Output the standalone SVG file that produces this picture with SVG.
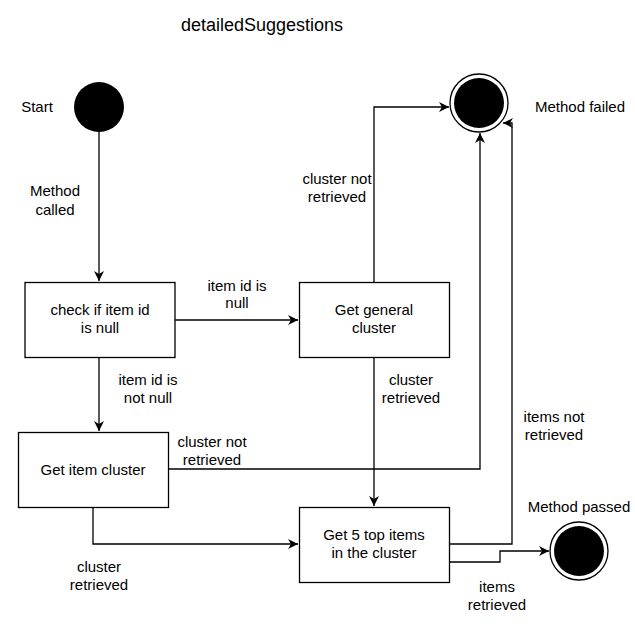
<svg xmlns="http://www.w3.org/2000/svg" width="635" height="632" viewBox="0 0 635 632">
<defs>
<marker id="arr" viewBox="0 0 10 10" refX="10" refY="5" markerWidth="10" markerHeight="10" markerUnits="userSpaceOnUse" orient="auto">
<path d="M0,0 L10,5 L0,10 L3,5 Z" fill="#000"/>
</marker>
<style>
text{font-family:"Liberation Sans",Arial,sans-serif;font-size:15px;fill:#000;text-anchor:middle}
.box{fill:#fff;stroke:#000;stroke-width:1.3}
.edge{fill:none;stroke:#000;stroke-width:1.3;marker-end:url(#arr)}
.title{font-size:18px}
</style>
</defs>
<rect width="635" height="632" fill="#fff"/>
<text class="title" x="262" y="31">detailedSuggestions</text>

<g id="connectors">
<path class="edge" d="M99,132 V281"/>
<path class="edge" d="M175,320 H298"/>
<path class="edge" d="M99,357 V431"/>
<path class="edge" d="M374,282 V107 H449"/>
<path class="edge" d="M374,357 V506"/>
<path class="edge" d="M168,469 H480 V133"/>
<path class="edge" d="M93,507 V544 H298"/>
<path class="edge" d="M449,544 H512 V123 H503"/>
<path class="edge" d="M449,562 H500 V551 H549"/>
<text x="55" y="196">Method</text><text x="55" y="215">called</text>
<text x="237" y="291">item id is</text><text x="237" y="308">null</text>
<text x="148" y="385">item id is</text><text x="148" y="403">not null</text>
<text x="337" y="184">cluster not</text><text x="337" y="202">retrieved</text>
<text x="411" y="385">cluster</text><text x="411" y="403">retrieved</text>
<text x="212" y="447">cluster not</text><text x="212" y="465">retrieved</text>
<text x="99" y="572">cluster</text><text x="99" y="590">retrieved</text>
<text x="554" y="422">items not</text><text x="554" y="440">retrieved</text>
<text x="497" y="592">items</text><text x="497" y="610">retrieved</text>
</g>

<g id="start">
<circle cx="99" cy="107" r="25" fill="#000"/>
<text x="37" y="112">Start</text>
</g>
<g id="failed">
<circle cx="479" cy="103" r="29" fill="#fff" stroke="#000" stroke-width="1.3"/>
<circle cx="479" cy="103" r="25" fill="#000"/>
<text x="580" y="112">Method failed</text>
</g>
<g id="passed">
<circle cx="579" cy="551" r="29" fill="#fff" stroke="#000" stroke-width="1.3"/>
<circle cx="579" cy="551" r="25" fill="#000"/>
<text x="579" y="512">Method passed</text>
</g>
<g id="checkNull">
<rect class="box" x="25" y="282.5" width="150" height="75"/>
<text x="100" y="315">check if item id</text><text x="100" y="333">is null</text>
</g>
<g id="general">
<rect class="box" x="299.5" y="282.5" width="150" height="75"/>
<text x="374" y="315">Get general</text><text x="374" y="333">cluster</text>
</g>
<g id="itemCluster">
<rect class="box" x="18.5" y="432.5" width="150" height="75"/>
<text x="93" y="475">Get item cluster</text>
</g>
<g id="top5">
<rect class="box" x="299.5" y="507.5" width="150" height="75"/>
<text x="374" y="540">Get 5 top items</text><text x="374" y="558">in the cluster</text>
</g>
</svg>
